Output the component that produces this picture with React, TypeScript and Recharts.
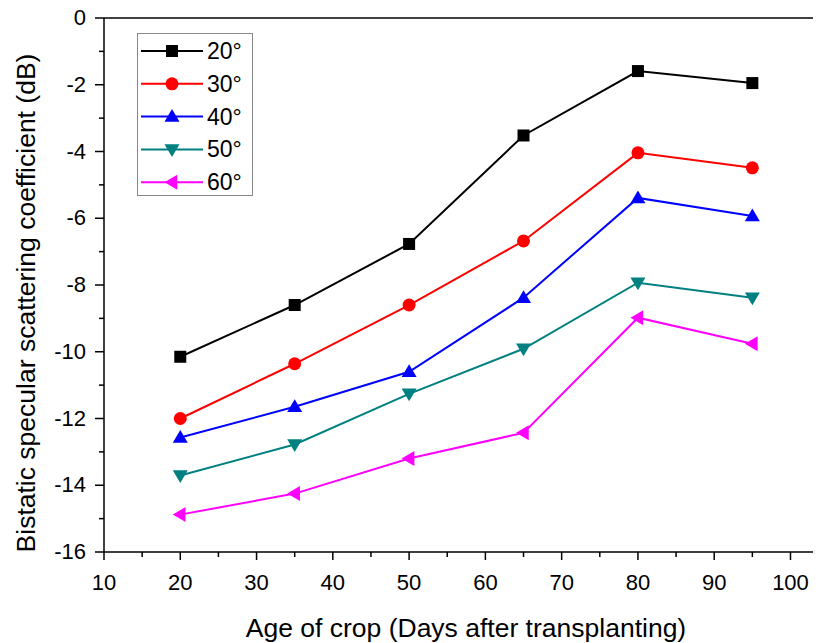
import React from 'react';
import {
  LineChart,
  Line,
  XAxis,
  YAxis,
  ReferenceLine,
  Label,
} from 'recharts';

const days = [20, 35, 50, 65, 80, 95];
const s20 = [-10.15, -8.6, -6.77, -3.52, -1.59, -1.95];
const s30 = [-12.0, -10.36, -8.6, -6.68, -4.04, -4.49];
const s40 = [-12.57, -11.65, -10.6, -8.38, -5.39, -5.93];
const s50 = [-13.71, -12.78, -11.26, -9.91, -7.93, -8.38];
const s60 = [-14.88, -14.25, -13.2, -12.43, -8.98, -9.76];

const xTicks = [10, 15, 20, 25, 30, 35, 40, 45, 50, 55, 60, 65, 70, 75, 80, 85, 90, 95, 100];
const yTicks = [-16, -15, -14, -13, -12, -11, -10, -9, -8, -7, -6, -5, -4, -3, -2, -1, 0];

const data = days.map((d, i) => ({
  day: d,
  a20: s20[i],
  a30: s30[i],
  a40: s40[i],
  a50: s50[i],
  a60: s60[i],
}));

const FONT = '"Liberation Sans", Arial, sans-serif';

type MarkerKind = 'square' | 'circle' | 'up' | 'down' | 'left';

function Marker({ cx, cy, kind, color }: { cx: number; cy: number; kind: MarkerKind; color: string }) {
  if (cx == null || cy == null) return null;
  if (kind === 'square') return <rect x={cx - 6} y={cy - 6} width={12} height={12} fill={color} />;
  if (kind === 'circle') return <circle cx={cx} cy={cy} r={6.5} fill={color} />;
  const s = 7.5;
  let pts = '';
  if (kind === 'up') pts = `${cx},${cy - s} ${cx - s},${cy + s * 0.7} ${cx + s},${cy + s * 0.7}`;
  if (kind === 'down') pts = `${cx},${cy + s} ${cx - s},${cy - s * 0.7} ${cx + s},${cy - s * 0.7}`;
  if (kind === 'left') pts = `${cx - s},${cy} ${cx + s * 0.7},${cy - s} ${cx + s * 0.7},${cy + s}`;
  return <polygon points={pts} fill={color} />;
}

const series = [
  { key: 'a20', name: '20°', color: '#000000', kind: 'square' as MarkerKind },
  { key: 'a30', name: '30°', color: '#ff0000', kind: 'circle' as MarkerKind },
  { key: 'a40', name: '40°', color: '#0000ff', kind: 'up' as MarkerKind },
  { key: 'a50', name: '50°', color: '#008080', kind: 'down' as MarkerKind },
  { key: 'a60', name: '60°', color: '#ff00ff', kind: 'left' as MarkerKind },
];

const XTick = (props: any) => {
  const { x, y, payload } = props;
  const major = payload.value % 10 === 0;
  return (
    <g>
      <line x1={x} y1={y} x2={x} y2={y + (major ? 8 : 5)} stroke="#000" strokeWidth={1.5} />
      {major && (
        <text x={x} y={y + 38} textAnchor="middle" fontSize={22} fontFamily={FONT} fill="#000">
          {payload.value}
        </text>
      )}
    </g>
  );
};

const YTick = (props: any) => {
  const { x, y, payload } = props;
  const major = payload.value % 2 === 0;
  return (
    <g>
      <line x1={x} y1={y} x2={x - (major ? 9 : 5)} y2={y} stroke="#000" strokeWidth={1.5} />
      {major && (
        <text x={x - 18} y={y + 7} textAnchor="end" fontSize={22} fontFamily={FONT} fill="#000">
          {payload.value}
        </text>
      )}
    </g>
  );
};

const LegendBox = () => (
  <svg width={116} height={163} style={{ display: 'block' }}>
    <rect x={0.5} y={0.5} width={115} height={162} fill="#fff" stroke="#888" strokeWidth={1} />
    {series.map((s, i) => {
      const cy = 18 + i * 32.8;
      return (
        <g key={s.key}>
          <line x1={4} y1={cy} x2={66} y2={cy} stroke={s.color} strokeWidth={2} />
          <Marker cx={35} cy={cy} kind={s.kind} color={s.color} />
          <text x={70} y={cy + 8} fontSize={23} fontFamily={FONT} fill="#000">
            {s.name}
          </text>
        </g>
      );
    })}
  </svg>
);

export default function App() {
  return (
    <div style={{ position: 'relative', width: 813, height: 643, marginTop: -8, background: '#fff' }}>
      <LineChart width={813} height={643} data={data} margin={{ top: 18, right: 0, left: 30, bottom: 0 }}>
        <XAxis
          dataKey="day"
          type="number"
          domain={[10, 104]}
          ticks={xTicks}
          tick={<XTick />}
          tickSize={0}
          tickMargin={0}
          height={91}
          axisLine={{ stroke: '#000', strokeWidth: 1.5 }}
          tickLine={false}
          interval={0}
        >
          <Label
            content={(p: any) => {
              const vb = p.viewBox || {};
              return (
                <text x={vb.x + 362} y={vb.y + 85} textAnchor="middle" fontSize={26.5} fontFamily={FONT} fill="#000">
                  Age of crop (Days after transplanting)
                </text>
              );
            }}
          />
        </XAxis>
        <YAxis
          type="number"
          domain={[-16, 0]}
          ticks={yTicks}
          tick={<YTick />}
          tickSize={0}
          tickMargin={0}
          width={66}
          axisLine={{ stroke: '#000', strokeWidth: 1.5 }}
          tickLine={false}
          interval={0}
        >
          <Label
            content={() => {
              const cx = 18;
              const cy = 303;
              return (
                <text
                  x={cx}
                  y={cy}
                  transform={`rotate(-90, ${cx}, ${cy})`}
                  textAnchor="middle"
                  dominantBaseline="central"
                  fontSize={26.5}
                  fontFamily={FONT}
                  fill="#000"
                >
                  Bistatic specular scattering coefficient (dB)
                </text>
              );
            }}
          />
        </YAxis>
        <ReferenceLine y={0} stroke="#000" strokeWidth={1.5} />
        {series.map((s) => (
          <Line
            key={s.key}
            dataKey={s.key}
            name={s.name}
            stroke={s.color}
            strokeWidth={2}
            isAnimationActive={false}
            dot={(p: any) => <Marker key={`${s.key}-${p.index}`} cx={p.cx} cy={p.cy} kind={s.kind} color={s.color} />}
            activeDot={false}
          />
        ))}
      </LineChart>
      <div style={{ position: 'absolute', left: 129, top: 33 }}>
        <LegendBox />
      </div>
    </div>
  );
}
